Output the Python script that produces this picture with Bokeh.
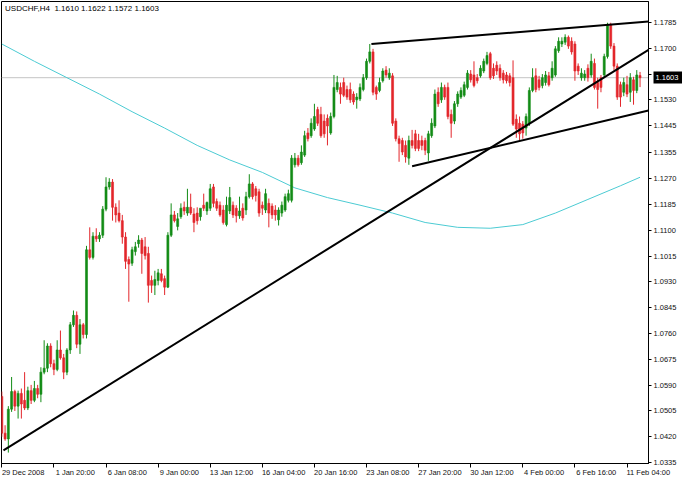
from bokeh.plotting import figure
from bokeh.models import FixedTicker, NumeralTickFormatter, Span, Label, LinearAxis, ColumnDataSource
from bokeh.embed import file_html
from bokeh.resources import INLINE

symbol = "USDCHF,H4"

opens = [
    1.0553, 1.0432, 1.0413, 1.0511, 1.0569, 1.0521, 1.0563, 1.0540, 1.0515, 1.0572,
    1.0540, 1.0579, 1.0560, 1.0633, 1.0646, 1.0719, 1.0661, 1.0642, 1.0706, 1.0680,
    1.0633, 1.0706, 1.0789, 1.0820, 1.0725, 1.0789, 1.0757, 1.1036, 1.1011, 1.1081,
    1.1072, 1.1084, 1.1170, 1.1243, 1.1259, 1.1176, 1.1157, 1.1132, 1.1078, 1.1004,
    1.0992, 1.1030, 1.1056, 1.1068, 1.1046, 1.1024, 1.0935, 1.0919, 1.0935, 1.0957,
    1.0941, 1.0913, 1.1084, 1.1151, 1.1113, 1.1145, 1.1176, 1.1157, 1.1176, 1.1154,
    1.1157, 1.1145, 1.1183, 1.1164, 1.1173, 1.1243, 1.1195, 1.1183, 1.1167, 1.1119,
    1.1164, 1.1183, 1.1173, 1.1148, 1.1173, 1.1167, 1.1211, 1.1253, 1.1237, 1.1227,
    1.1183, 1.1167, 1.1189, 1.1180, 1.1167, 1.1135, 1.1157, 1.1167, 1.1199, 1.1199,
    1.1316, 1.1338, 1.1323, 1.1348, 1.1421, 1.1412, 1.1434, 1.1498, 1.1482, 1.1460,
    1.1469, 1.1421, 1.1475, 1.1564, 1.1571, 1.1587, 1.1564, 1.1564, 1.1549, 1.1530,
    1.1533, 1.1564, 1.1603, 1.1657, 1.1688, 1.1571, 1.1561, 1.1593, 1.1628, 1.1603,
    1.1609, 1.1460, 1.1402, 1.1396, 1.1380, 1.1338, 1.1396, 1.1418, 1.1396, 1.1396,
    1.1396, 1.1355, 1.1412, 1.1444, 1.1555, 1.1530, 1.1571, 1.1571, 1.1482, 1.1460,
    1.1517, 1.1539, 1.1545, 1.1571, 1.1615, 1.1612, 1.1603, 1.1609, 1.1625, 1.1650,
    1.1682, 1.1634, 1.1644, 1.1634, 1.1618, 1.1612, 1.1609, 1.1603, 1.1466, 1.1453,
    1.1450, 1.1437, 1.1453, 1.1561, 1.1609, 1.1596, 1.1577, 1.1587, 1.1609, 1.1603,
    1.1612, 1.1692, 1.1714, 1.1720, 1.1736, 1.1723, 1.1714, 1.1641, 1.1603, 1.1603,
    1.1634, 1.1612, 1.1650, 1.1587, 1.1603, 1.1612, 1.1673, 1.1777, 1.1707, 1.1641,
    1.1580, 1.1555, 1.1580, 1.1555, 1.1596, 1.1561, 1.1610,
]
highs = [
    1.0569, 1.0458, 1.0521, 1.0617, 1.0575, 1.0572, 1.0579, 1.0633, 1.0585, 1.0591,
    1.0604, 1.0591, 1.0649, 1.0738, 1.0728, 1.0728, 1.0674, 1.0738, 1.0770, 1.0693,
    1.0712, 1.0798, 1.0836, 1.0833, 1.0808, 1.0795, 1.1049, 1.1110, 1.1094, 1.1107,
    1.1094, 1.1180, 1.1275, 1.1272, 1.1269, 1.1189, 1.1199, 1.1151, 1.1094, 1.1014,
    1.1046, 1.1062, 1.1084, 1.1075, 1.1078, 1.1046, 1.0951, 1.0967, 1.0973, 1.0973,
    1.0951, 1.1094, 1.1189, 1.1164, 1.1157, 1.1189, 1.1195, 1.1237, 1.1221, 1.1173,
    1.1176, 1.1164, 1.1221, 1.1195, 1.1253, 1.1253, 1.1205, 1.1195, 1.1183, 1.1211,
    1.1243, 1.1195, 1.1183, 1.1211, 1.1189, 1.1227, 1.1285, 1.1259, 1.1246, 1.1237,
    1.1195, 1.1237, 1.1205, 1.1189, 1.1183, 1.1176, 1.1195, 1.1221, 1.1234, 1.1348,
    1.1355, 1.1348, 1.1380, 1.1428, 1.1437, 1.1469, 1.1517, 1.1507, 1.1507, 1.1482,
    1.1482, 1.1488, 1.1612, 1.1609, 1.1587, 1.1603, 1.1577, 1.1587, 1.1558, 1.1552,
    1.1584, 1.1615, 1.1666, 1.1714, 1.1698, 1.1577, 1.1603, 1.1634, 1.1641, 1.1634,
    1.1618, 1.1469, 1.1412, 1.1405, 1.1396, 1.1412, 1.1431, 1.1431, 1.1418, 1.1412,
    1.1405, 1.1428, 1.1469, 1.1564, 1.1571, 1.1587, 1.1580, 1.1587, 1.1498, 1.1526,
    1.1558, 1.1571, 1.1590, 1.1628, 1.1628, 1.1657, 1.1615, 1.1644, 1.1666, 1.1688,
    1.1688, 1.1650, 1.1657, 1.1647, 1.1628, 1.1622, 1.1618, 1.1660, 1.1482, 1.1475,
    1.1460, 1.1485, 1.1571, 1.1634, 1.1634, 1.1609, 1.1615, 1.1625, 1.1622, 1.1657,
    1.1707, 1.1736, 1.1736, 1.1746, 1.1742, 1.1736, 1.1723, 1.1650, 1.1634, 1.1628,
    1.1647, 1.1682, 1.1666, 1.1603, 1.1612, 1.1682, 1.1784, 1.1784, 1.1717, 1.1650,
    1.1590, 1.1603, 1.1609, 1.1618, 1.1606, 1.1628, 1.1622,
]
lows = [
    1.0420, 1.0407, 1.0368, 1.0502, 1.0505, 1.0480, 1.0480, 1.0508, 1.0508, 1.0528,
    1.0534, 1.0547, 1.0534, 1.0626, 1.0633, 1.0649, 1.0623, 1.0636, 1.0674, 1.0610,
    1.0623, 1.0693, 1.0782, 1.0712, 1.0693, 1.0744, 1.0744, 1.1004, 1.1004, 1.1062,
    1.1062, 1.1075, 1.1163, 1.1234, 1.1132, 1.1126, 1.1126, 1.1056, 1.0973, 1.0865,
    1.0983, 1.1017, 1.1043, 1.0957, 1.1004, 1.0862, 1.0894, 1.0887, 1.0919, 1.0929,
    1.0887, 1.0910, 1.1078, 1.1126, 1.1100, 1.1138, 1.1151, 1.1148, 1.1151, 1.1094,
    1.1119, 1.1132, 1.1164, 1.1151, 1.1164, 1.1176, 1.1164, 1.1145, 1.1119, 1.1113,
    1.1154, 1.1141, 1.1126, 1.1138, 1.1132, 1.1151, 1.1205, 1.1202, 1.1195, 1.1145,
    1.1151, 1.1157, 1.1110, 1.1138, 1.1132, 1.1116, 1.1145, 1.1161, 1.1192, 1.1192,
    1.1307, 1.1310, 1.1316, 1.1342, 1.1393, 1.1405, 1.1428, 1.1444, 1.1405, 1.1405,
    1.1380, 1.1415, 1.1469, 1.1555, 1.1517, 1.1539, 1.1530, 1.1520, 1.1514, 1.1501,
    1.1526, 1.1558, 1.1596, 1.1650, 1.1545, 1.1530, 1.1555, 1.1587, 1.1603, 1.1596,
    1.1444, 1.1393, 1.1326, 1.1348, 1.1323, 1.1316, 1.1370, 1.1361, 1.1361, 1.1364,
    1.1348, 1.1329, 1.1405, 1.1437, 1.1507, 1.1520, 1.1530, 1.1466, 1.1405, 1.1450,
    1.1507, 1.1533, 1.1539, 1.1564, 1.1587, 1.1571, 1.1584, 1.1603, 1.1618, 1.1644,
    1.1596, 1.1599, 1.1612, 1.1593, 1.1584, 1.1584, 1.1574, 1.1444, 1.1405, 1.1396,
    1.1402, 1.1412, 1.1444, 1.1555, 1.1555, 1.1561, 1.1568, 1.1577, 1.1574, 1.1593,
    1.1606, 1.1685, 1.1704, 1.1711, 1.1698, 1.1679, 1.1593, 1.1612, 1.1593, 1.1593,
    1.1590, 1.1603, 1.1564, 1.1501, 1.1555, 1.1603, 1.1666, 1.1698, 1.1628, 1.1530,
    1.1507, 1.1542, 1.1539, 1.1523, 1.1514, 1.1552, 1.1572,
]
closes = [
    1.0432, 1.0413, 1.0511, 1.0569, 1.0521, 1.0563, 1.0528, 1.0515, 1.0572, 1.0540,
    1.0579, 1.0560, 1.0633, 1.0646, 1.0719, 1.0661, 1.0642, 1.0706, 1.0680, 1.0633,
    1.0706, 1.0789, 1.0820, 1.0725, 1.0789, 1.0757, 1.1036, 1.1011, 1.1081, 1.1072,
    1.1084, 1.1170, 1.1243, 1.1259, 1.1176, 1.1151, 1.1132, 1.1078, 1.0998, 1.0989,
    1.1036, 1.1046, 1.1068, 1.1024, 1.1017, 1.0919, 1.0919, 1.0938, 1.0960, 1.0935,
    1.0913, 1.1084, 1.1151, 1.1132, 1.1138, 1.1173, 1.1164, 1.1176, 1.1157, 1.1126,
    1.1132, 1.1173, 1.1173, 1.1192, 1.1237, 1.1189, 1.1173, 1.1151, 1.1126, 1.1183,
    1.1208, 1.1151, 1.1148, 1.1164, 1.1141, 1.1211, 1.1253, 1.1211, 1.1215, 1.1157,
    1.1173, 1.1221, 1.1157, 1.1151, 1.1151, 1.1167, 1.1183, 1.1211, 1.1221, 1.1338,
    1.1338, 1.1316, 1.1358, 1.1412, 1.1402, 1.1453, 1.1475, 1.1453, 1.1412, 1.1418,
    1.1444, 1.1475, 1.1571, 1.1587, 1.1549, 1.1545, 1.1539, 1.1530, 1.1523, 1.1539,
    1.1571, 1.1603, 1.1657, 1.1688, 1.1555, 1.1549, 1.1587, 1.1625, 1.1612, 1.1618,
    1.1453, 1.1402, 1.1386, 1.1358, 1.1342, 1.1396, 1.1380, 1.1370, 1.1370, 1.1380,
    1.1364, 1.1418, 1.1453, 1.1549, 1.1517, 1.1571, 1.1539, 1.1475, 1.1453, 1.1517,
    1.1549, 1.1561, 1.1580, 1.1618, 1.1596, 1.1577, 1.1593, 1.1634, 1.1657, 1.1676,
    1.1603, 1.1609, 1.1625, 1.1603, 1.1596, 1.1593, 1.1587, 1.1450, 1.1434, 1.1418,
    1.1421, 1.1475, 1.1561, 1.1603, 1.1564, 1.1571, 1.1603, 1.1612, 1.1580, 1.1634,
    1.1698, 1.1723, 1.1723, 1.1736, 1.1707, 1.1688, 1.1625, 1.1625, 1.1618, 1.1615,
    1.1603, 1.1657, 1.1571, 1.1564, 1.1571, 1.1673, 1.1777, 1.1707, 1.1641, 1.1539,
    1.1539, 1.1587, 1.1549, 1.1603, 1.1561, 1.1612, 1.1603,
]

# moving average (cyan) read at bar positions
ma_bars = [0, 10, 20, 30, 40, 50, 60, 70, 80, 90, 100, 110, 120, 130, 140,
           150, 160, 170, 180, 190, 196]
ma_values = [1.1714, 1.1657, 1.1603, 1.1549, 1.1491, 1.1437, 1.1380, 1.1332,
             1.1291, 1.1240, 1.1208, 1.1183, 1.1157, 1.1126, 1.1110, 1.1107,
             1.1119, 1.1157, 1.1202, 1.1247, 1.1275]

# hand-drawn trend lines (bar, price) start -> end
trend_bar0 = [0.5, 113.5, 126.0]
trend_price0 = [1.0375, 1.1714, 1.1311]
trend_bar1 = [198.6, 198.6, 198.6]
trend_price1 = [1.1695, 1.1788, 1.1495]

price_ticks = [1.1785, 1.1700, 1.1615, 1.1530, 1.1445, 1.1355, 1.1270, 1.1185,
               1.1100, 1.1015, 1.0930, 1.0845, 1.0760, 1.0675, 1.0590, 1.0505,
               1.0420, 1.0335]
date_ticks = [0, 16, 32, 48, 64, 80, 96, 112, 128, 144, 160, 176, 192]
date_labels = ["29 Dec 2008", "1 Jan 20:00", "6 Jan 08:00", "9 Jan 00:00",
               "13 Jan 12:00", "16 Jan 04:00", "20 Jan 16:00", "23 Jan 08:00",
               "27 Jan 20:00", "30 Jan 12:00", "4 Feb 00:00", "6 Feb 16:00",
               "11 Feb 04:00"]

GREEN = "#138c16"
RED = "#e3262b"
FONT = "Liberation Sans"
X0, X1 = -0.1, 198.6
Y0, Y1 = 1.0332, 1.1854
LABEL_SHIFT = 6.55   # date text sits to the right of its tick (in bar units)

n = len(closes)
bars = list(range(n))
colors = [GREEN if c >= o else RED for o, c in zip(opens, closes)]
src = ColumnDataSource(dict(
    x=bars, h=highs, l=lows,
    top=[max(o, c) for o, c in zip(opens, closes)],
    bot=[min(o, c) for o, c in zip(opens, closes)],
    color=colors,
))

p = figure(width=682, height=482, x_range=(X0, X1), y_range=(Y0, Y1),
           y_axis_location="right", output_backend="svg", toolbar_location=None,
           min_border_left=1, min_border_top=1, min_border_right=34, min_border_bottom=19)
p.background_fill_color = "white"
p.border_fill_color = "white"
p.outline_line_color = "#000000"
p.outline_line_width = 1
p.xgrid.visible = False
p.ygrid.visible = False

# current price line
p.add_layout(Span(location=closes[-1], dimension="width", line_color="#c4c4c4",
                  line_width=1, level="underlay"))

# moving average
p.line(ma_bars, ma_values, line_color="#4ccbd3", line_width=1)

# candles
p.segment(x0="x", y0="l", x1="x", y1="h", line_color="color", line_width=1, source=src)
p.vbar(x="x", width=0.62, top="top", bottom="bot", fill_color="color",
       line_color="color", line_width=0.6, source=src)

# trend lines
p.segment(x0=trend_bar0, y0=trend_price0, x1=trend_bar1, y1=trend_price1,
          line_color="black", line_width=2)

# bottom axis: tick marks
xa = p.xaxis[0]
xa.ticker = FixedTicker(ticks=date_ticks)
xa.major_label_text_color = None
xa.major_label_text_font_size = "1px"
xa.major_label_standoff = 0
xa.major_tick_out = 4
xa.major_tick_in = 0
xa.minor_tick_line_color = None
xa.axis_line_color = "black"
xa.major_tick_line_color = "black"

# bottom axis: date texts, starting just right of each tick
label_pos = [t + LABEL_SHIFT for t in date_ticks]
xb = LinearAxis(ticker=FixedTicker(ticks=label_pos),
                major_label_overrides={pos: lab for pos, lab in zip(label_pos, date_labels)},
                major_label_text_font=FONT, major_label_text_font_size="7.5px",
                major_label_text_color="#111111", major_label_standoff=0,
                major_tick_line_color=None, minor_tick_line_color=None,
                axis_line_color=None, major_tick_out=0, major_tick_in=0)
p.add_layout(xb, "below")

# right axis: prices
ya = p.yaxis[0]
ya.ticker = FixedTicker(ticks=price_ticks)
ya.formatter = NumeralTickFormatter(format="0.0000")
ya.major_label_text_font = FONT
ya.major_label_text_font_size = "7.5px"
ya.major_label_text_color = "#111111"
ya.major_tick_out = 3
ya.major_tick_in = 0
ya.major_label_standoff = 2
ya.minor_tick_line_color = None
ya.axis_line_color = "black"
ya.major_tick_line_color = "black"

# current price box on the right axis
yb = LinearAxis(ticker=FixedTicker(ticks=[closes[-1]]),
                formatter=NumeralTickFormatter(format="0.0000"),
                major_label_text_font=FONT, major_label_text_font_size="7.5px",
                major_label_text_color="white", major_label_standoff=-29,
                major_tick_line_color="black", major_tick_line_width=12,
                major_tick_line_cap="butt", major_tick_in=26, major_tick_out=5,
                minor_tick_line_color=None, axis_line_color=None)
p.add_layout(yb, "right")

# header text
header = "%s\u00a0 %.4f %.4f %.4f %.4f" % (symbol, opens[-1], highs[-1], lows[-1], closes[-1])
p.add_layout(Label(x=1.0, y=1.1832, text=header, text_font=FONT, text_font_size="8px",
                   text_baseline="middle", text_color="#000000"))

open("out.html", "w").write(file_html(p, INLINE))
